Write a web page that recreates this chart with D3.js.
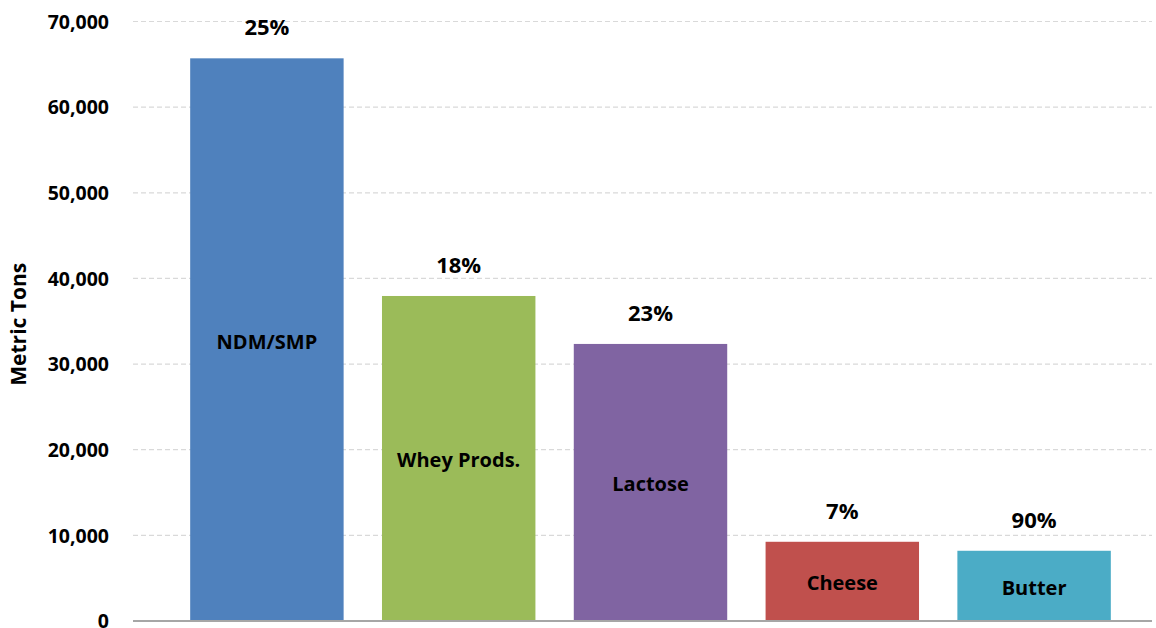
<!DOCTYPE html>
<html>
<head>
<meta charset="utf-8">
<script src="https://cdn.jsdelivr.net/npm/d3@7"></script>
<style>
  body { margin: 0; background: #fff; }
  text { font-family: "Open Sans", sans-serif; font-weight: bold; fill: #000; }
</style>
</head>
<body>
<svg id="chart" width="1156" height="628"></svg>
<script>
// chart data
var categories = ['NDM/SMP', 'Whey Prods.', 'Lactose', 'Cheese', 'Butter'];
var tons = [65700, 37950, 32350, 9250, 8200];
var shares = ['25%', '18%', '23%', '7%', '90%'];
var colors = ['#4F81BD', '#9BBB59', '#8064A2', '#C0504D', '#4BACC6'];
var yTicks = [0, 10000, 20000, 30000, 40000, 50000, 60000, 70000];

var svg = d3.select('#chart');

var plotLeft = 133, plotRight = 1152, plotTop = 21.5, plotBottom = 621;

var x = d3.scaleBand().domain(categories).range([171, 1130]).paddingInner(0.2).paddingOuter(0.1);
var y = d3.scaleLinear().domain([0, 70000]).range([plotBottom, plotTop]);

// gridlines
svg.append('g').selectAll('line').data(yTicks.filter(function(d) { return d > 0; }))
    .enter().append('line')
    .attr('x1', plotLeft).attr('x2', plotRight)
    .attr('y1', function(d) { return y(d); }).attr('y2', function(d) { return y(d); })
    .style('stroke', '#d9d9d9').style('stroke-width', 1.2).style('stroke-dasharray', '5,3');

// y axis labels
var yAxis = d3.axisLeft(y).tickValues(yTicks).tickFormat(d3.format(',')).tickSize(0).tickPadding(24);
var gy = svg.append('g').attr('transform', 'translate(' + plotLeft + ',0)').call(yAxis);
gy.select('.domain').remove();
gy.attr('font-family', null).attr('font-size', null);
gy.selectAll('text').style('font-size', '19.5px').attr('dy', '0.35em');

// bars
var idx = d3.range(categories.length);
svg.append('g').selectAll('rect').data(idx).enter().append('rect')
    .attr('x', function(i) { return x(categories[i]); })
    .attr('width', x.bandwidth())
    .attr('y', function(i) { return y(tons[i]); })
    .attr('height', function(i) { return plotBottom - y(tons[i]); })
    .style('fill', function(i) { return colors[i]; });

// category labels inside bars
svg.append('g').selectAll('text').data(idx).enter().append('text')
    .attr('x', function(i) { return x(categories[i]) + x.bandwidth() / 2; })
    .attr('y', function(i) { return (y(tons[i]) + plotBottom) / 2 + 9; })
    .attr('text-anchor', 'middle')
    .style('font-size', '20px')
    .text(function(i) { return categories[i]; });

// share labels above bars
svg.append('g').selectAll('text').data(idx).enter().append('text')
    .attr('x', function(i) { return x(categories[i]) + x.bandwidth() / 2; })
    .attr('y', function(i) { return y(tons[i]) - 23; })
    .attr('text-anchor', 'middle')
    .style('font-size', '22px')
    .text(function(i) { return shares[i]; });

// x axis baseline
svg.append('line').attr('x1', plotLeft).attr('x2', plotRight).attr('y1', plotBottom).attr('y2', plotBottom)
    .style('stroke', '#a6a6a6').style('stroke-width', 2);

// y axis title
svg.append('text')
    .attr('transform', 'translate(26,' + ((plotTop + plotBottom) / 2 + 3) + ') rotate(-90)')
    .attr('text-anchor', 'middle')
    .style('font-size', '21px')
    .text('Metric Tons');
</script>
</body>
</html>
